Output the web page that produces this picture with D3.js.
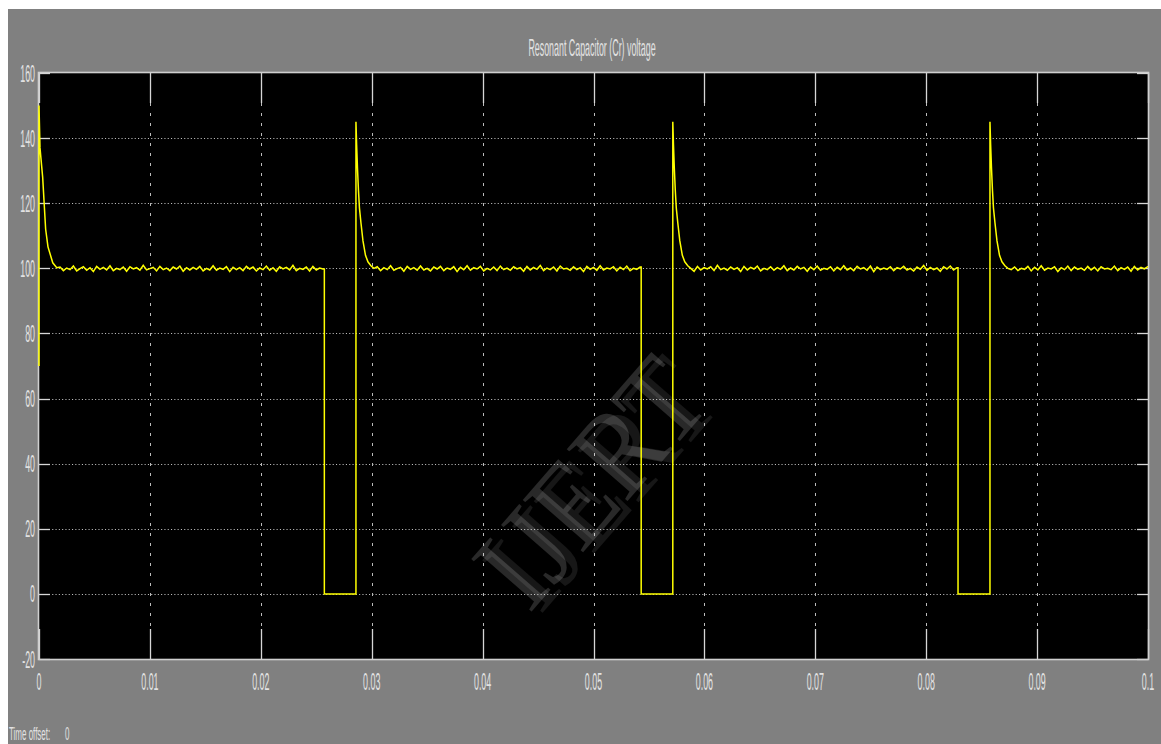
<!DOCTYPE html>
<html>
<head>
<meta charset="utf-8">
<script src="https://cdn.jsdelivr.net/npm/d3@7"></script>
<style>
  html, body { margin: 0; padding: 0; background: #ffffff; }
  svg { display: block; }
</style>
</head>
<body>
<script>
// ---- data ----
const title = "Resonant Capacitor (Cr) voltage";
const xTicks = [0, 0.01, 0.02, 0.03, 0.04, 0.05, 0.06, 0.07, 0.08, 0.09, 0.1];
const xTickLabels = ["0", "0.01", "0.02", "0.03", "0.04", "0.05", "0.06", "0.07", "0.08", "0.09", "0.1"];
const yTicks = [-20, 0, 20, 40, 60, 80, 100, 120, 140, 160];
const yTickLabels = ["-20", "0", "20", "40", "60", "80", "100", "120", "140", "160"];

// switching instants (s)
const fallTimes = [0.02573, 0.05430, 0.08287];
const riseTimes = [0.02858, 0.05715, 0.08575];

// start-up transient
const startTime = [0, 0, 0.00009, 0.00033, 0.00060, 0.00081, 0.00124, 0.00160];
const startVolt = [70, 150, 137, 128, 112, 106.6, 101.7, 100.2];

// overshoot after each switch-on, offset from the rise instant
const decayOffset = [0, 0.00006, 0.000135, 0.000225, 0.000316, 0.00045, 0.00063, 0.00086, 0.00108, 0.00135, 0.00162];
const decayVolt = [145, 138, 131, 124, 118.5, 114, 108.5, 104, 102, 100.8, 100];

// steady-state ripple samples (V), sampled every rippleStep seconds
const rippleStep = 0.0003;
const ripple = [
  100.4, 99.3, 100.1, 99.6, 100.7, 99.2, 99.9, 100.5, 99.4, 100.2, 99.0, 100.6, 99.7, 100.3, 99.5, 100.8, 99.3, 100.0, 99.6, 100.4,
  99.1, 100.5, 99.8, 100.2, 99.4, 100.9, 99.5, 99.9, 100.3, 99.2, 100.6, 99.6, 100.1, 99.3, 100.4, 99.8, 100.7, 99.1, 100.2, 99.5,
  100.3, 99.7, 100.6, 99.2, 100.0, 99.5, 100.8, 99.4, 100.1, 99.7, 100.5, 99.0, 100.3, 99.6, 100.2, 99.3, 100.6, 99.8, 100.4, 99.2,
  100.1, 99.6, 100.7, 99.4, 100.2, 99.1, 100.5, 99.8, 100.3, 99.5, 100.9, 99.3, 100.0, 99.7, 100.4, 99.2, 100.6, 99.5, 100.1, 99.8,
  100.5, 99.3, 100.2, 99.6, 100.8, 99.4, 99.9, 100.3, 99.1, 100.6, 99.7, 100.2, 99.4, 100.7, 99.5, 100.0, 99.2, 100.4, 99.8, 100.6,
  99.3, 100.1, 99.7, 100.5, 99.0, 100.3, 99.6, 100.8, 99.4, 100.2, 99.8, 100.6, 99.2, 100.0, 99.5, 100.4, 99.3, 100.7, 99.6, 100.1,
  99.4, 100.5, 99.8, 100.2, 99.1, 100.6, 99.5, 100.3, 99.7, 100.9, 99.3, 100.1, 99.6, 100.4, 99.2, 100.7, 99.8, 100.0, 99.4, 100.5,
  99.6, 100.2, 99.0, 100.6, 99.7, 100.3, 99.4, 100.8, 99.5, 100.1, 99.8, 100.5, 99.2, 100.3, 99.6, 100.7, 99.3, 100.0, 99.7, 100.4,
  99.1, 100.6, 99.5, 100.2, 99.8, 100.5, 99.3, 100.9, 99.6, 100.1, 99.4, 100.4, 99.7, 100.2, 99.0, 100.6, 99.5, 100.3, 99.8, 100.7,
  99.2, 100.0, 99.6, 100.5, 99.4, 100.2, 99.7, 100.8, 99.3, 100.1, 99.5, 100.6, 99.8, 100.3, 99.1, 100.4, 99.6, 100.7, 99.4, 100.0,
  99.7, 100.5, 99.2, 100.3, 99.6, 100.8, 99.5, 100.1, 99.3, 100.6, 99.8, 100.2, 99.4, 100.7, 99.0, 100.4, 99.6, 100.1, 99.7, 100.5,
  99.3, 100.2, 99.8, 100.6, 99.5, 100.0, 99.2, 100.4, 99.7, 100.9, 99.4, 100.3, 99.6, 100.1, 99.1, 100.5, 99.8, 100.7, 99.5, 100.2,
  99.6, 100.4, 99.3, 100.0, 99.7, 100.6, 99.2, 100.3, 99.5, 100.8, 99.4, 100.1, 99.8, 100.5, 99.0, 100.2, 99.6, 100.7, 99.3, 100.4,
  99.7, 100.1, 99.4, 100.6, 99.5, 100.3, 99.2, 100.5, 99.8, 100.0, 99.6, 100.7, 99.3, 100.2, 99.7, 100.4, 99.1, 100.6, 99.5, 100.3,
  99.8, 100.5, 99.4, 100.2, 99.6, 100.8, 99.3, 100.1, 99.7, 100.4
];
const tEnd = 0.1;

// ---- layout ----
const W = 1161, H = 744;
const plot = { left: 39, right: 1148, top: 73, bottom: 659 };
const FONT = 24, SX = 0.37;           // narrow scope font
const textColor = "#e2e2e2";
const sansFont = "'Liberation Sans', Arial, sans-serif";
const serifFont = "'Liberation Serif', 'Times New Roman', serif";

const svg = d3.select("body").append("svg").attr("width", W).attr("height", H);

// window background with white margin at top/left
svg.append("rect").attr("width", W).attr("height", H).attr("fill", "#ffffff");
svg.append("rect").attr("x", 8).attr("y", 9).attr("width", W - 8).attr("height", H - 9).attr("fill", "#808080");

const x = d3.scaleLinear().domain([0, 0.1]).range([plot.left, plot.right]);
const y = d3.scaleLinear().domain([-20, 160]).range([plot.bottom, plot.top]);

// plot area
svg.append("rect")
  .attr("x", plot.left).attr("y", plot.top)
  .attr("width", plot.right - plot.left).attr("height", plot.bottom - plot.top)
  .attr("fill", "#000000");

// helper for condensed text
function label(g, tx, ty, str, anchor, size, sx) {
  g.append("g").attr("transform", `translate(${tx},${ty}) scale(${sx},1)`)
    .append("text").attr("text-anchor", anchor)
    .style("font-family", sansFont)
    .attr("font-size", size).attr("fill", textColor).text(str);
}

// grid
const grid = svg.append("g");
grid.selectAll("line.hg").data(yTicks.filter(v => v > -20 && v < 160)).join("line")
  .attr("class", "hg")
  .attr("x1", plot.left).attr("x2", plot.right)
  .attr("y1", d => Math.round(y(d)) + 0.5).attr("y2", d => Math.round(y(d)) + 0.5)
  .attr("stroke", "#bdbdbd").attr("stroke-width", 1).attr("stroke-dasharray", "1.1,2.2");
grid.selectAll("line.vg").data(xTicks.filter(v => v > 0 && v < 0.1)).join("line")
  .attr("class", "vg")
  .attr("x1", d => Math.round(x(d)) + 0.5).attr("x2", d => Math.round(x(d)) + 0.5)
  .attr("y1", plot.top).attr("y2", plot.bottom)
  .attr("stroke", "#bdbdbd").attr("stroke-width", 1).attr("stroke-dasharray", "3,7");

// inward solid ticks on all four sides
const tickColor = "#d6d6d6";
yTicks.forEach(v => {
  const yy = Math.round(y(v)) + 0.5;
  grid.append("line").attr("x1", plot.left).attr("x2", plot.left + 11).attr("y1", yy).attr("y2", yy)
    .attr("stroke", tickColor).attr("stroke-width", 1.3);
  grid.append("line").attr("x1", plot.right - 11).attr("x2", plot.right).attr("y1", yy).attr("y2", yy)
    .attr("stroke", tickColor).attr("stroke-width", 1.3);
});
xTicks.forEach(v => {
  const xx = Math.round(x(v)) + 0.5;
  grid.append("line").attr("x1", xx).attr("x2", xx).attr("y1", plot.bottom - 30).attr("y2", plot.bottom)
    .attr("stroke", tickColor).attr("stroke-width", 1.3);
  grid.append("line").attr("x1", xx).attr("x2", xx).attr("y1", plot.top).attr("y2", plot.top + 30)
    .attr("stroke", tickColor).attr("stroke-width", 1.3);
});

// frame
svg.append("rect")
  .attr("x", plot.left - 0.5).attr("y", plot.top - 0.5)
  .attr("width", plot.right - plot.left + 1).attr("height", plot.bottom - plot.top + 1)
  .attr("fill", "none").attr("stroke", "#cfcfcf").attr("stroke-width", 1.6);

// watermark
const wm = svg.append("g").attr("transform", "translate(590,482) rotate(-49) scale(0.9,1)");
wm.append("text").attr("x", 7).attr("y", 9).attr("text-anchor", "middle").attr("dominant-baseline", "central")
  .style("font-family", serifFont).attr("font-size", 122)
  .attr("fill", "#ffffff").attr("fill-opacity", 0.09).text("IJERT");
wm.append("text").attr("text-anchor", "middle").attr("dominant-baseline", "central")
  .style("font-family", serifFont).attr("font-size", 122)
  .attr("fill", "#ffffff").attr("fill-opacity", 0.16).text("IJERT");

// ---- build the waveform ----
const pts = [];
let ri = 0;
function flat(from, to) {
  let t = from + rippleStep;
  let last = 100;
  while (t < to && ri < ripple.length) {
    last = ripple[ri++];
    pts.push([t, last]);
    t += rippleStep;
  }
  return last;
}
startTime.forEach((t, i) => pts.push([t, startVolt[i]]));
let segStart = startTime[startTime.length - 1];
fallTimes.forEach((tf, k) => {
  const lv = flat(segStart, tf);
  pts.push([tf, lv]);
  pts.push([tf, 0]);
  pts.push([riseTimes[k], 0]);
  decayOffset.forEach((o, i) => pts.push([riseTimes[k] + o, decayVolt[i]]));
  segStart = riseTimes[k] + decayOffset[decayOffset.length - 1];
});
const lastV = flat(segStart, tEnd);
pts.push([tEnd, lastV]);

const line = d3.line().x(d => x(d[0])).y(d => y(d[1]));
svg.append("path").datum(pts)
  .attr("d", line)
  .attr("fill", "none").attr("stroke", "#ffff00").attr("stroke-width", 1.5)
  .attr("stroke-linejoin", "miter");

// axis labels
const labels = svg.append("g");
yTicks.forEach((v, i) => label(labels, 35, y(v) + 8.5, yTickLabels[i], "end", FONT, SX));
xTicks.forEach((v, i) => label(labels, x(v), 690, xTickLabels[i], "middle", FONT, SX));

// title
label(svg, 592, 56, title, "middle", FONT, SX);

// time offset readout
label(svg, 9, 740, "Time offset:", "start", 19, 0.42);
label(svg, 65, 740, "0", "start", 19, 0.42);
</script>
</body>
</html>
